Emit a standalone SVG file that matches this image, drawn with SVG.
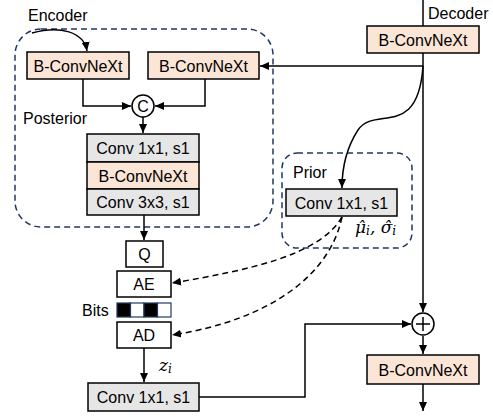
<svg xmlns="http://www.w3.org/2000/svg" width="493" height="417" viewBox="0 0 493 417">
<style>
text{font-family:"Liberation Sans",Arial,sans-serif;font-size:16px;fill:#000}
.c{text-anchor:middle}
.peach{fill:#FBE5D6;stroke:#000;stroke-width:1.5}
.gray{fill:#E7E6E6;stroke:#000;stroke-width:1.5}
.white{fill:#fff;stroke:#000;stroke-width:1.5}
.grp{fill:none;stroke:#203864;stroke-width:1.5;stroke-dasharray:6,4}
.ln{fill:none;stroke:#000;stroke-width:1.5}
.arr{marker-end:url(#ah)}
.dash{stroke-dasharray:6,4}
.math{font-family:"DejaVu Serif","Liberation Serif",serif;font-style:italic;font-size:17px}
.sub{font-size:12px}
</style>
<defs>
<marker id="ah" markerWidth="10" markerHeight="10" refX="9" refY="5" orient="auto" markerUnits="userSpaceOnUse">
<path d="M0,1 L9,5 L0,9 Z" fill="#000"/>
</marker>
</defs>
<rect x="0" y="0" width="493" height="417" fill="#fff"/>

<g id="posterior-group">
<rect class="grp" x="15" y="29" width="258" height="198" rx="26"/>
<text x="23" y="124">Posterior</text>
</g>
<g id="prior-group">
<rect class="grp" x="282" y="153" width="130" height="95" rx="15"/>
<text x="293" y="178">Prior</text>
</g>

<text id="encoder-label" x="28" y="21">Encoder</text>
<text id="decoder-label" x="428" y="19">Decoder</text>

<g id="connectors">
<path class="ln arr" d="M32,33 C60,25 84,32 87,51"/>
<path class="ln" d="M423,0 V26"/>
<path class="ln arr" d="M423,53 V312"/>
<path class="ln arr" d="M423,66 H260"/>
<path class="ln arr" d="M423,66 C418,140 375,105 358,130 C345,150 342,170 342,188"/>
<path class="ln arr" d="M83,79 V106 H131"/>
<path class="ln arr" d="M205,79 V106 H155"/>
<path class="ln arr" d="M143,117 V133"/>
<path class="ln arr" d="M144,215 V240"/>
<path class="ln dash arr" d="M342,217 C320,255 250,270 172,283"/>
<path class="ln dash arr" d="M342,217 C330,275 270,320 172,335"/>
<path class="ln arr" d="M144,348 V382"/>
<path class="ln arr" d="M199,397 H305 V324 H411"/>
<path class="ln arr" d="M423,336 V354"/>
<path class="ln arr" d="M423,384 V411"/>
</g>

<g id="enc-bconv">
<rect class="peach" x="27" y="52" width="102" height="27"/>
<text class="c" x="78" y="71.5">B-ConvNeXt</text>
</g>
<g id="dec-bconv-in">
<rect class="peach" x="148" y="52" width="111" height="27"/>
<text class="c" x="203.5" y="71.5">B-ConvNeXt</text>
</g>
<g id="concat">
<circle class="white" cx="143" cy="106" r="11"/>
<text class="c" x="143" y="112">C</text>
</g>
<g id="post-conv1">
<rect class="gray" x="87" y="134" width="112" height="28"/>
<text class="c" x="143" y="154">Conv 1x1, s1</text>
</g>
<g id="post-bconv">
<rect class="peach" x="87" y="162" width="112" height="27"/>
<text class="c" x="143" y="181.5">B-ConvNeXt</text>
</g>
<g id="post-conv3">
<rect class="gray" x="87" y="189" width="112" height="26"/>
<text class="c" x="143" y="208">Conv 3x3, s1</text>
</g>

<g id="decoder-bconv">
<rect class="peach" x="367" y="26" width="112" height="27"/>
<text class="c" x="423" y="45.5">B-ConvNeXt</text>
</g>

<g id="prior-conv">
<rect class="gray" x="286" y="189" width="111" height="27"/>
<text class="c" x="341.5" y="208.5">Conv 1x1, s1</text>
</g>
<text id="mu-sigma" class="math" x="355" y="233">μ̂<tspan class="sub" dy="2">i</tspan><tspan dy="-2">, σ̂</tspan><tspan class="sub" dy="2">i</tspan></text>

<g id="Q">
<rect class="white" x="126" y="241" width="37" height="26"/>
<text class="c" x="144.5" y="260">Q</text>
</g>
<g id="AE">
<rect class="white" x="117" y="271" width="54" height="26"/>
<text class="c" x="144" y="290">AE</text>
</g>
<g id="bits">
<text x="82" y="316">Bits</text>
<rect x="117" y="303" width="13.5" height="14" fill="#000" stroke="#203864" stroke-width="1.2"/>
<rect x="130.5" y="303" width="13.5" height="14" fill="#fff" stroke="#203864" stroke-width="1.2"/>
<rect x="144" y="303" width="13.5" height="14" fill="#000" stroke="#203864" stroke-width="1.2"/>
<rect x="157.5" y="303" width="13.5" height="14" fill="#fff" stroke="#203864" stroke-width="1.2"/>
</g>
<g id="AD">
<rect class="white" x="117" y="322" width="54" height="26"/>
<text class="c" x="144" y="341">AD</text>
</g>
<text id="zi" class="math" x="159" y="371">z<tspan class="sub" dy="2">i</tspan></text>

<g id="bottom-conv">
<rect class="gray" x="88" y="383" width="111" height="28"/>
<text class="c" x="143.5" y="403">Conv 1x1, s1</text>
</g>

<g id="add">
<circle class="white" cx="423" cy="324" r="11"/>
<path class="ln" d="M416,324 H430 M423,317 V331"/>
</g>
<g id="out-bconv">
<rect class="peach" x="367" y="355" width="112" height="29"/>
<text class="c" x="423" y="375.5">B-ConvNeXt</text>
</g>
</svg>
